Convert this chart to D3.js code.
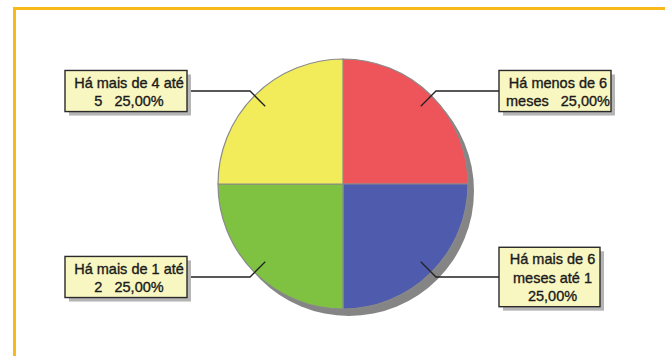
<!DOCTYPE html>
<html><head><meta charset="utf-8">
<script src="https://cdn.jsdelivr.net/npm/d3@7"></script>
<style>html,body{margin:0;padding:0;background:#fff} text{white-space:pre}</style>
</head><body>
<svg id="chart" width="665" height="356"></svg>
<script>
// ---- data ----
const categories = ["Há menos de 6 meses", "Há mais de 6 meses até 1", "Há mais de 1 até 2", "Há mais de 4 até 5"];
const values = [25, 25, 25, 25];
const colors = ["#EE555B", "#4F5BAC", "#7FC241", "#F3EC5A"];
// label line breaks ({p} = percentage)
const labelLines = [
  ["Há menos de 6", "meses   {p}"],
  ["Há mais de 6", "meses até 1", "{p}"],
  ["Há mais de 1 até", "2   {p}"],
  ["Há mais de 4 até", "5   {p}"]
];
const boxWidths = [112, 101, 122, 122];

const svg = d3.select("#chart");
svg.append("rect").attr("width", 665).attr("height", 356).attr("fill", "#fff");
// frame
svg.append("rect").attr("x", 14.5).attr("y", 8.5).attr("width", 700).attr("height", 400)
  .attr("fill", "none").attr("stroke", "#F9B81C").attr("stroke-width", 3);

const cx = 343, cy = 184, R = 125;
const total = d3.sum(values);
const fmt = v => d3.format(".2f")(v / total * 100).replace(".", ",") + "%";

const pie = d3.pie().sort(null).value(d => d)(values);
const arc = d3.arc().innerRadius(0).outerRadius(R);
const g = svg.append("g").attr("transform", `translate(${cx},${cy})`);

// shadow
g.append("circle").attr("cx", 6).attr("cy", 7).attr("r", R).attr("fill", "#858585");
g.selectAll("path.slice").data(pie).join("path").attr("class", "slice")
  .attr("d", arc).attr("fill", (d, i) => colors[i])
  .attr("stroke", "#8a8a8a").attr("stroke-width", 1.2);

// labels
const fs = 14.5, lh = 18.3;
pie.forEach((d, i) => {
  const a = (d.startAngle + d.endAngle) / 2;
  const sx = Math.sin(a), sy = -Math.cos(a);
  const p0 = [sx * 110, sy * 110];
  const p1 = [sx * 131.5, sy * 131.5];
  const right = sx > 0;
  const bx = right ? 156 : -156;
  g.append("polyline")
    .attr("points", [p0, p1, [bx, p1[1]]].map(p => p.join(",")).join(" "))
    .attr("fill", "none").attr("stroke", "#222").attr("stroke-width", 1.3);
  const lines = labelLines[i].map(s => s.replace("{p}", fmt(values[i])));
  const w = boxWidths[i];
  const h = lines.length * lh + 4.5;
  const x0 = right ? bx : bx - w;
  const y0 = p1[1] - h / 2;
  g.append("rect").attr("x", x0 + 4).attr("y", y0 + 4).attr("width", w).attr("height", h).attr("fill", "#b5b5b5");
  g.append("rect").attr("x", x0).attr("y", y0).attr("width", w).attr("height", h)
    .attr("fill", "#F8F6C1").attr("stroke", "#2a2a2a").attr("stroke-width", 1.4);
  const t = g.append("text").attr("xml:space", "preserve")
    .attr("font-family", "Liberation Sans, Arial, sans-serif")
    .attr("font-size", fs).attr("fill", "#1a1a1a").attr("stroke", "#1a1a1a").attr("stroke-width", 0.35)
    .attr("text-anchor", "middle");
  lines.forEach((s, k) => {
    t.append("tspan").attr("x", x0 + w / 2 + 3).attr("y", y0 + 17.2 + k * lh).text(s);
  });
});
</script>
</body></html>
